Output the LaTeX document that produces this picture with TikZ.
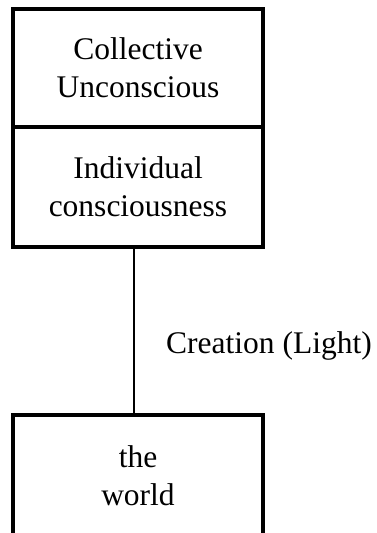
\documentclass[tikz,border=0pt]{standalone}
\usepackage{fontspec}
\setmainfont{Liberation Serif}
\begin{document}
\begin{tikzpicture}[x=1pt,y=-1pt,
  box/.style={draw,line width=3.5pt,minimum width=250pt,inner sep=0pt,
    align=center,font=\fontsize{31.5}{37.8}\selectfont},
  link/.style={line width=1.5pt},
  lbl/.style={inner sep=0pt,align=center,font=\fontsize{31.5}{37.8}\selectfont}]
  \useasboundingbox (0,0) rectangle (376,533);
  \clip (0,0) rectangle (376,533);
  \node[box,minimum height=118pt] (cu) at (138,68) {Collective\\Unconscious};
  \node[box,minimum height=120pt] (ic) at (138,187) {Individual\\consciousness};
  % the lower box runs past the bottom edge of the page
  \node[box,minimum height=150pt] (world) at (138,490) {};
  \node[lbl,anchor=base] (wtxt) at (138,505) {the\\world};
  \draw[link] ([xshift=-4pt]ic.south) -- ([xshift=-4pt]world.north);
  \node[lbl,anchor=base west] (cl) at (166,353) {Creation (Light)};
\end{tikzpicture}
\end{document}
